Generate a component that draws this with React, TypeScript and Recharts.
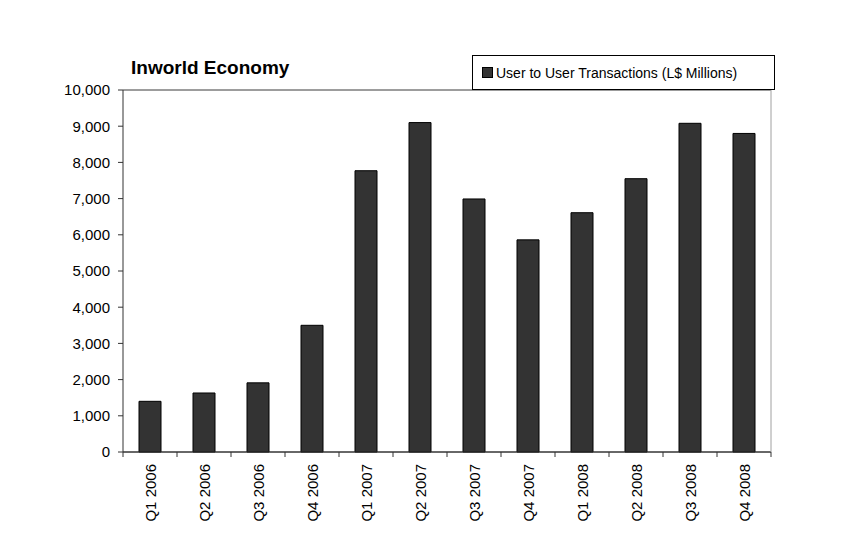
import { Bar, BarChart, CartesianGrid, XAxis, YAxis } from "recharts";

const quarters = [
  "Q1 2006",
  "Q2 2006",
  "Q3 2006",
  "Q4 2006",
  "Q1 2007",
  "Q2 2007",
  "Q3 2007",
  "Q4 2007",
  "Q1 2008",
  "Q2 2008",
  "Q3 2008",
  "Q4 2008",
];
const transactions = [1400, 1630, 1910, 3500, 7770, 9100, 6990, 5860, 6610, 7550, 9080, 8800];
const yTicks = [0, 1000, 2000, 3000, 4000, 5000, 6000, 7000, 8000, 9000, 10000];

const seriesName = "User to User Transactions (L$ Millions)";
const font = "'Liberation Sans', Arial, sans-serif";

const data = quarters.map((q, i) => ({ quarter: q, value: transactions[i] }));

// category label rotated, plus tick marks on the category boundaries
function QuarterTick(props: any) {
  const { x, y, payload, width, visibleTicksCount, index } = props;
  const half = width / visibleTicksCount / 2;
  const axisY = y - 12;
  return (
    <g>
      <line x1={x - half} x2={x - half} y1={axisY} y2={axisY + 5} stroke="#333" />
      {index === visibleTicksCount - 1 && (
        <line x1={x + half} x2={x + half} y1={axisY} y2={axisY + 5} stroke="#333" />
      )}
      <text
        x={x}
        y={y}
        transform={`rotate(-90, ${x}, ${y})`}
        textAnchor="end"
        dominantBaseline="central"
        fontSize={15}
        fontFamily={font}
        fill="#000"
      >
        {payload.value}
      </text>
    </g>
  );
}

export default function App() {
  return (
    <div style={{ position: "relative", width: 844, height: 548, margin: -8, background: "#fff" }}>
      <div
        style={{
          position: "absolute",
          left: 5,
          top: 4,
          right: 0,
          bottom: 0,
          borderTop: "3px solid #000",
          borderLeft: "3px solid #000",
        }}
      />
      <div style={{ position: "absolute", left: 0, top: 0 }}>
        <BarChart
          width={844}
          height={548}
          data={data}
          margin={{ top: 90, right: 72, bottom: 0, left: 0 }}
          barSize={22}
        >
          <CartesianGrid horizontal vertical={false} stroke="#3a3a3a" strokeWidth={1} />
          <XAxis
            dataKey="quarter"
            height={96}
            interval={0}
            tickSize={0}
            tickMargin={12}
            axisLine={{ stroke: "#333" }}
            tickLine={false}
            tick={<QuarterTick />}
          />
          <YAxis
            yAxisId="left"
            domain={[0, 10000]}
            ticks={yTicks}
            width={123}
            tickSize={5}
            tickMargin={8}
            interval={0}
            tickFormatter={(v: number) => v.toLocaleString("en-US")}
            tick={{ fill: "#000", fontSize: 15, fontFamily: font }}
            axisLine={{ stroke: "#333" }}
            tickLine={{ stroke: "#333" }}
          />
          <YAxis
            yAxisId="right"
            orientation="right"
            domain={[0, 10000]}
            width={1}
            tick={false}
            tickLine={false}
            axisLine={{ stroke: "#a0a0a0" }}
          />
          <Bar
            yAxisId="left"
            dataKey="value"
            name={seriesName}
            fill="#333333"
            stroke="#000"
            strokeWidth={1}
            isAnimationActive={false}
          />
        </BarChart>
      </div>
      <div
        style={{
          position: "absolute",
          left: 131,
          top: 57,
          fontFamily: font,
          fontWeight: "bold",
          fontSize: 19,
          color: "#000",
        }}
      >
        Inworld Economy
      </div>
      <div
        style={{
          position: "absolute",
          left: 472,
          top: 55,
          width: 301,
          height: 33,
          border: "1px solid #000",
          background: "#fff",
          display: "flex",
          alignItems: "center",
          fontFamily: font,
          fontSize: 14,
          color: "#000",
        }}
      >
        <span
          style={{
            display: "inline-block",
            width: 9,
            height: 9,
            background: "#333",
            border: "1px solid #000",
            marginLeft: 9,
            marginRight: 3,
          }}
        />
        {seriesName}
      </div>
    </div>
  );
}
